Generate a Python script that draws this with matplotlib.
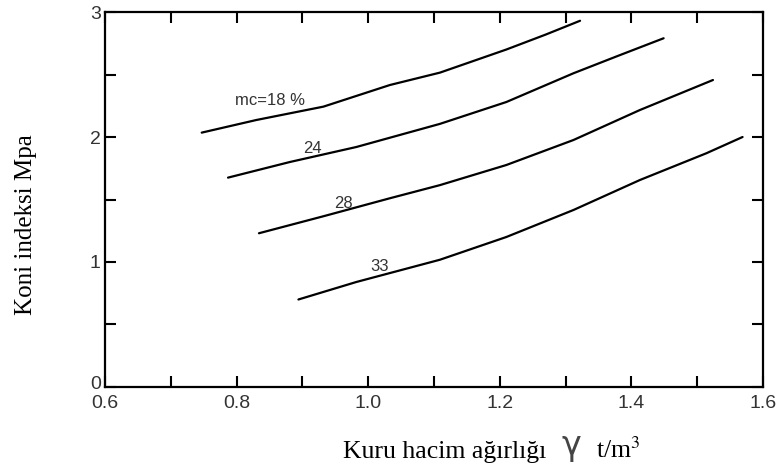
import numpy as np
import matplotlib
matplotlib.use("Agg")
import matplotlib.pyplot as plt
import matplotlib.transforms as mtransforms

# curve points (x: dry unit weight t/m3, y: cone index MPa)
x18 = [0.747, 0.830, 0.932, 1.033, 1.109, 1.210, 1.270, 1.322]
y18 = [2.035, 2.136, 2.243, 2.416, 2.515, 2.700, 2.820, 2.930]
x24 = [0.787, 0.881, 0.982, 1.109, 1.210, 1.312, 1.380, 1.449]
y24 = [1.675, 1.800, 1.920, 2.105, 2.280, 2.510, 2.650, 2.790]
x28 = [0.834, 0.932, 1.033, 1.109, 1.210, 1.312, 1.413, 1.524]
y28 = [1.230, 1.366, 1.510, 1.615, 1.776, 1.976, 2.216, 2.456]
x33 = [0.894, 0.982, 1.109, 1.210, 1.312, 1.413, 1.514, 1.569]
y33 = [0.700, 0.840, 1.018, 1.200, 1.416, 1.656, 1.870, 2.000]

curve_labels = ["mc=18 %", "24", "28", "33"]
label_x = [0.798, 0.915, 0.962, 1.018]
label_y = [2.29, 1.905, 1.464, 0.96]
label_ha = ["left", "center", "center", "center"]

plt.rcParams['font.family'] = ['Liberation Sans', 'DejaVu Sans']
plt.rcParams['mathtext.fontset'] = 'stix'

fig = plt.figure(figsize=(7.76, 4.75), dpi=100)
ax = fig.add_axes([0.1353, 0.1853, 0.8479, 0.7894])

for xs, ys in [(x18, y18), (x24, y24), (x28, y28), (x33, y33)]:
    ax.plot(xs, ys, color='black', lw=1.6, solid_capstyle='round')

for t, lx, ly, ha in zip(curve_labels, label_x, label_y, label_ha):
    ax.text(lx, ly, t, fontsize=12, color='#333333', ha=ha, va='center')

ax.set_xlim(0.6, 1.6)
ax.set_ylim(0, 3)
ax.set_xticks(np.arange(0.6, 1.61, 0.1), minor=True)
ax.set_xticks([0.6, 0.8, 1.0, 1.2, 1.4, 1.6])
ax.set_xticklabels(["0.6", "0.8", "1.0", "1.2", "1.4", "1.6"])
ax.set_yticks(np.arange(0, 3.01, 0.5), minor=True)
ax.set_yticks([0, 1, 2, 3])
ax.set_yticklabels(["0", "1", "2", "3"])
ax.tick_params(which='both', direction='in', top=True, right=True, width=1.5,
               length=8, labelsize=14, labelcolor='#333333')
ax.tick_params(axis='x', which='major', pad=6)
ax.tick_params(axis='y', which='major', pad=3)
for s in ax.spines.values():
    s.set_linewidth(1.6)

# nudge the "0" label up a little so it clears "0.6"
zero = ax.get_yticklabels()[0]
zero.set_transform(zero.get_transform() +
                   mtransforms.ScaledTranslation(0, 4 / 100, fig.dpi_scale_trans))

fig.text(0.034, 1 - 225 / 475, "Koni indeksi Mpa", rotation=90, fontsize=18,
         family='Liberation Serif', ha='center', va='center')

base = 1 - 458 / 475
fig.text(343 / 776, base, "Kuru hacim ağırlığı", fontsize=18.5,
         family='Liberation Serif', ha='left', va='baseline')
fig.text(571 / 776, 1 - 446 / 475, "γ", fontsize=24, color='#444444',
         family='DejaVu Sans', ha='center', va='center')
fig.text(596 / 776, base, "t/m$^3$", fontsize=18.5,
         family='Liberation Serif', ha='left', va='baseline')

fig.savefig("out.png", dpi=100)
